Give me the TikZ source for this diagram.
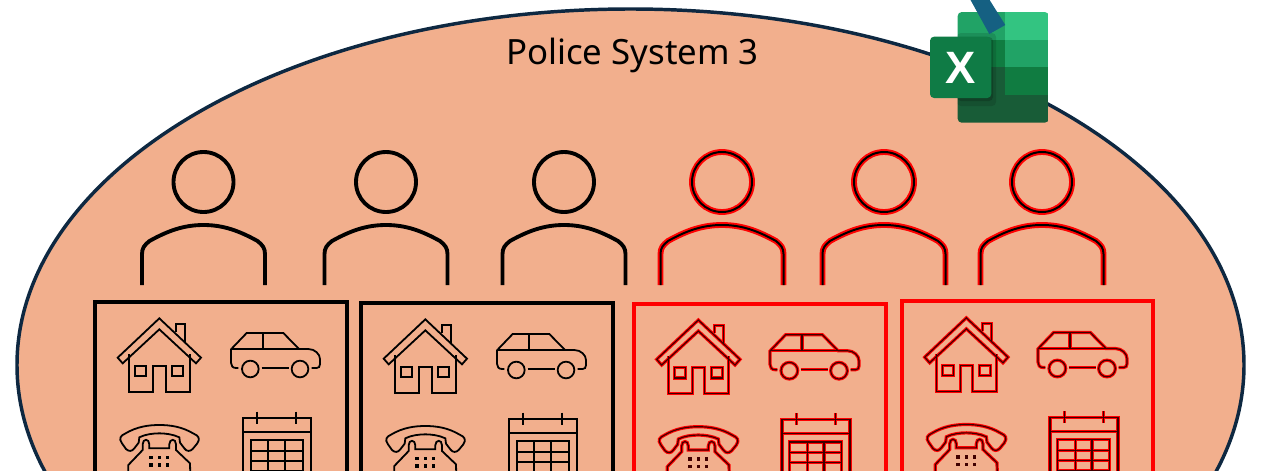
\documentclass[tikz,border=0pt]{standalone}
\usepackage{fontspec}
\setmainfont{Noto Sans}
\newfontfamily\xlfont{Liberation Sans}
\definecolor{blobfill}{HTML}{F2AF8D}
\definecolor{bloblin}{HTML}{0E2841}
\definecolor{xa}{HTML}{21A366}
\definecolor{xb}{HTML}{33C481}
\definecolor{xc}{HTML}{107C41}
\definecolor{xd}{HTML}{185C37}
\definecolor{xe}{HTML}{0F7B45}
\definecolor{barblue}{HTML}{156082}
\definecolor{darkcore}{HTML}{400000}
\tikzset{
  blackicon/.style={color=black,line width=1.35pt,line join=miter},
  redhalo/.style={color=red,line width=2.4pt,line join=miter},
  redcore/.style={color=darkcore,line width=.85pt,line join=miter},
  blackperson/.style={color=black,line width=2.9pt},
  redpersonhalo/.style={color=red,line width=4.4pt},
  redpersoncore/.style={color=black,line width=1.5pt},
  blackbox/.style={draw=black,line width=3pt},
  redbox/.style={draw=red,line width=3pt},
}
\newcommand{\PersonArt}[3]{%
  \begin{scope}[shift={(#1,#2)}]
  \draw[#3] (0,0) circle [radius=30];
  \draw[#3] (-61.5,103) -- (-61.5,72)
    .. controls (-61.5,66) and (-59,63) .. (-54,59)
    .. controls (-36,49) and (-20,43) .. (0,43)
    .. controls (20,43) and (36,49) .. (54,59)
    .. controls (59,63) and (61.5,66) .. (61.5,72) -- (61.5,103);
  \end{scope}
}
\newcommand{\IconArt}[2]{%
  \begin{scope}[shift={#1},x=.25pt,y=-.25pt]
    % house
    \draw[#2] (83,188) -- (208,70) -- (333,188) -- (318,205) -- (208,103) -- (98,205) -- cycle;
    \draw[#2] (257,110) -- (257,86) -- (284,86) -- (284,140);
    \draw[#2] (118,178) -- (118,291) -- (190,291) -- (190,213) -- (227,213) -- (227,291) -- (299,291) -- (299,178);
    \draw[#2] (136,213) rectangle (169,244);
    \draw[#2] (247,213) rectangle (280,244);
    % car
    \draw[#2] (445,219) -- (438,219) .. controls (428,219) and (423,212) .. (423,203) -- (423,163) -- (470,114) -- (580,114) -- (627,162) -- (655,162)
       .. controls (675,162) and (690,178) .. (690,192) -- (690,208) .. controls (690,215) and (686,219) .. (680,219) -- (665,219);
    \draw[#2] (423,162) -- (630,162);
    \draw[#2] (519,114) -- (519,162);
    \draw[#2] (481,222) circle [radius=25];
    \draw[#2] (630,222) circle [radius=25];
    \draw[#2] (515,219) -- (597,219);
    % phone
    \draw[#2] (96,445) .. controls (85,430) and (92,422) .. (105,416)
       .. controls (140,395) and (175,390) .. (208,390)
       .. controls (241,390) and (276,395) .. (311,416)
       .. controls (325,422) and (332,430) .. (322,445) -- (308,462)
       .. controls (300,470) and (290,470) .. (283,460) -- (270,443) -- (268,427)
       .. controls (250,418) and (225,415) .. (208,415)
       .. controls (190,415) and (165,418) .. (148,427) -- (146,443) -- (133,460)
       .. controls (126,470) and (116,470) .. (108,462) -- cycle;
    \draw[#2] (115,620) -- (115,510) -- (158,465) -- (158,448)
       .. controls (158,430) and (178,430) .. (178,448) -- (178,460) -- (238,460) -- (238,448)
       .. controls (238,430) and (258,430) .. (258,448) -- (258,465) -- (300,505) -- (303,620);
    \foreach \dotx in {183,208,233}
      \foreach \doty in {487,510,533}
        \fill[#2] (\dotx-5,\doty-5) rectangle (\dotx+5,\doty+5);
    % calendar
    \draw[#2] (459,700) -- (459,369) -- (663,369) -- (663,700);
    \draw[#2] (459,411) -- (663,411);
    \draw[#2] (502,350) -- (502,386);
    \draw[#2] (619,350) -- (619,386);
    \draw[#2] (482,600) -- (482,436) -- (638,436) -- (638,600);
    \draw[#2] (535,436) -- (535,600);
    \draw[#2] (585,436) -- (585,600);
    \draw[#2] (482,467) -- (638,467);
    \draw[#2] (482,497) -- (638,497);
    \draw[#2] (482,527) -- (638,527);
    \draw[#2] (482,557) -- (638,557);
  \end{scope}
}
\begin{document}
\begin{tikzpicture}[x=.75pt,y=-.75pt]
  \useasboundingbox (0,0) rectangle (1261,471);
  \clip (0,0) rectangle (1261,471);
  \draw[fill=blobfill,draw=bloblin,line width=2.6pt] (630.5,365) ellipse [x radius=613.5,y radius=356];
  \node[font=\fontsize{26.1}{30}\selectfont,inner sep=0pt] (title) at (632.5,55.5) {Police System 3};
  % people
  \PersonArt{203.5}{182}{blackperson}
  \PersonArt{386}{182}{blackperson}
  \PersonArt{564}{182}{blackperson}
  \foreach \px in {722,884,1042}{
    \PersonArt{\px}{182}{redpersonhalo}
    \PersonArt{\px}{182}{redpersoncore}
  }
  % boxes
  \draw[blackbox] (95,302) rectangle (347,520);
  \draw[blackbox] (360.5,303) rectangle (613,520);
  \draw[redbox] (634,304) rectangle (886,520);
  \draw[redbox] (902,301) rectangle (1153,520);
  % icons
  \IconArt{(90,295)}{blackicon}
  \IconArt{(356,296)}{blackicon}
  \foreach \ox/\oy in {629/296.7,897/294.5}{
    \IconArt{(\ox,\oy)}{redhalo}
    \IconArt{(\ox,\oy)}{redcore}
  }
  % spreadsheet logo
  \begin{scope}
    \clip[rounded corners=3pt] (957.7,12) rectangle (1048.7,122.7);
    \fill[xa] (957,11) rectangle (1005,40);
    \fill[xb] (1005,11) rectangle (1049,40);
    \fill[xc] (957,40) rectangle (1005,67.3);
    \fill[xa] (1005,40) rectangle (1049,67.3);
    \fill[xd] (957,67.3) rectangle (1005,95);
    \fill[xc] (1005,67.3) rectangle (1049,95);
    \fill[xd] (957,95) rectangle (1049,123);
    \fill[black,opacity=.12,rounded corners=3pt] (957,33) rectangle (996,106);
    \fill[black,opacity=.18,rounded corners=3pt] (957,37) rectangle (993,101);
  \end{scope}
  \fill[xe,rounded corners=3pt] (930,36.7) rectangle (991.3,98);
  \node[font=\xlfont\bfseries\fontsize{34}{34}\selectfont,text=white,inner sep=0pt] (xmark) at (960.6,67.5) {X};
  \fill[barblue] (970,-1) -- (989,-1) -- (1005.3,25) -- (989.3,34) -- cycle;
\end{tikzpicture}
\end{document}
